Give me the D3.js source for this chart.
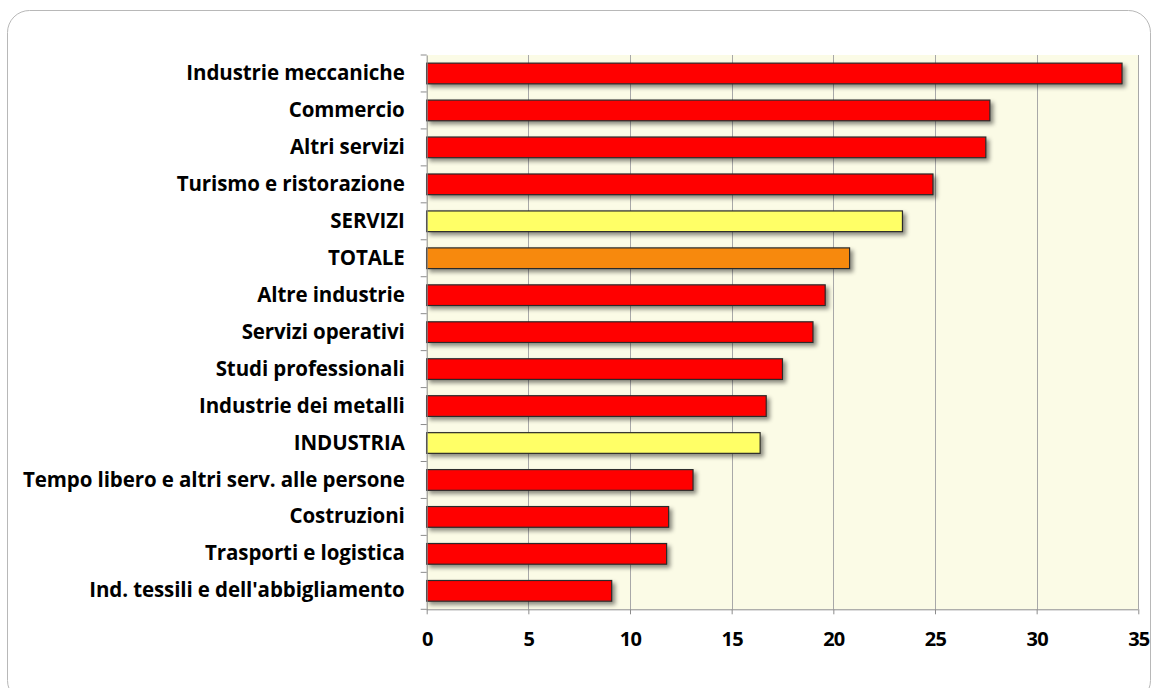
<!DOCTYPE html>
<html>
<head>
<meta charset="utf-8">
<script src="https://cdn.jsdelivr.net/npm/d3@7"></script>
<style>
  html, body { margin: 0; padding: 0; background: #ffffff; }
  svg { display: block; }
  .lbl { font-family: "Open Sans", "Lato", sans-serif; font-weight: bold; fill: #000; }
</style>
</head>
<body>
<svg id="chart" width="1157" height="688"></svg>
<script>
// Categories, top to bottom
const categories = [
  "Industrie meccaniche",
  "Commercio",
  "Altri servizi",
  "Turismo e ristorazione",
  "SERVIZI",
  "TOTALE",
  "Altre industrie",
  "Servizi operativi",
  "Studi professionali",
  "Industrie dei metalli",
  "INDUSTRIA",
  "Tempo libero e altri serv. alle persone",
  "Costruzioni",
  "Trasporti e logistica",
  "Ind. tessili e dell'abbigliamento"
];
const values = [34.2, 27.7, 27.5, 24.9, 23.4, 20.8, 19.6, 19.0, 17.5, 16.7, 16.4, 13.1, 11.9, 11.8, 9.1];
// Row kind: sector detail, macro-sector aggregate, overall total
const kinds = ["sector", "sector", "sector", "sector", "macro", "total", "sector", "sector", "sector", "sector", "macro", "sector", "sector", "sector", "sector"];
const xTicks = [0, 5, 10, 15, 20, 25, 30, 35];

const fillByKind = { sector: "#ff0000", macro: "#ffff66", total: "#f7890f" };

const svg = d3.select("#chart");
const plot = { left: 426.7, right: 1138.3, top: 55, bottom: 609.3 };

// Outer rounded frame
svg.append("rect")
  .attr("x", 7.5).attr("y", 10.5)
  .attr("width", 1143).attr("height", 692)
  .attr("rx", 22).attr("ry", 22)
  .attr("fill", "#ffffff")
  .attr("stroke", "#b8b8b8").attr("stroke-width", 1);

const defs = svg.append("defs");
const f = defs.append("filter").attr("id", "shadow")
  .attr("x", "-5%").attr("y", "-30%").attr("width", "115%").attr("height", "180%");
f.append("feDropShadow")
  .attr("dx", 3).attr("dy", 3).attr("stdDeviation", 2)
  .attr("flood-color", "#000").attr("flood-opacity", 0.45);

const x = d3.scaleLinear().domain([0, 35]).range([plot.left, plot.right]);
const y = d3.scaleBand().domain(categories).range([plot.top, plot.bottom]).paddingInner(0.44).paddingOuter(0.22);

// Plot background
svg.append("rect")
  .attr("x", plot.left).attr("y", plot.top)
  .attr("width", plot.right - plot.left).attr("height", plot.bottom - plot.top)
  .attr("fill", "#fbfbe6");

// Vertical gridlines
svg.append("g").selectAll("line")
  .data(xTicks.filter(d => d > 0))
  .join("line")
  .attr("x1", d => Math.round(x(d)) + 0.5).attr("x2", d => Math.round(x(d)) + 0.5)
  .attr("y1", plot.top).attr("y2", plot.bottom)
  .attr("stroke", "#a8a8a8").attr("stroke-width", 1);

// Bars
svg.append("g").selectAll("rect")
  .data(categories)
  .join("rect")
  .attr("x", x(0))
  .attr("y", d => y(d))
  .attr("width", (d, i) => x(values[i]) - x(0))
  .attr("height", y.bandwidth())
  .attr("fill", (d, i) => fillByKind[kinds[i]])
  .attr("stroke", "#2a2a2a").attr("stroke-width", 1.2)
  .attr("filter", "url(#shadow)");

// Category axis
const yAxis = d3.axisLeft(y).tickSize(0).tickPadding(22);
const gy = svg.append("g").attr("transform", `translate(${plot.left},0)`).call(yAxis);
gy.select(".domain").attr("stroke", "#8c8c8c");
gy.selectAll("text").attr("class", "lbl").attr("font-size", 20.5).attr("letter-spacing", -0.1);

// Band boundary ticks on the category axis
const bounds = d3.range(categories.length + 1).map(i => plot.top + i * (plot.bottom - plot.top) / categories.length);
svg.append("g").selectAll("line")
  .data(bounds)
  .join("line")
  .attr("x1", plot.left - 6).attr("x2", plot.left)
  .attr("y1", d => d).attr("y2", d => d)
  .attr("stroke", "#8c8c8c");

// Value axis
const xAxis = d3.axisBottom(x).tickValues(xTicks).tickSize(5).tickPadding(18).tickFormat(d3.format("d"));
const gx = svg.append("g").attr("transform", `translate(0,${plot.bottom})`).call(xAxis);
gx.select(".domain").attr("stroke", "#8c8c8c").attr("d", `M${plot.left},0.5H${plot.right}`);
gx.selectAll(".tick line").attr("stroke", "#8c8c8c");
gx.selectAll("text").attr("class", "lbl").attr("font-size", 20).attr("letter-spacing", -0.8);
</script>
</body>
</html>
